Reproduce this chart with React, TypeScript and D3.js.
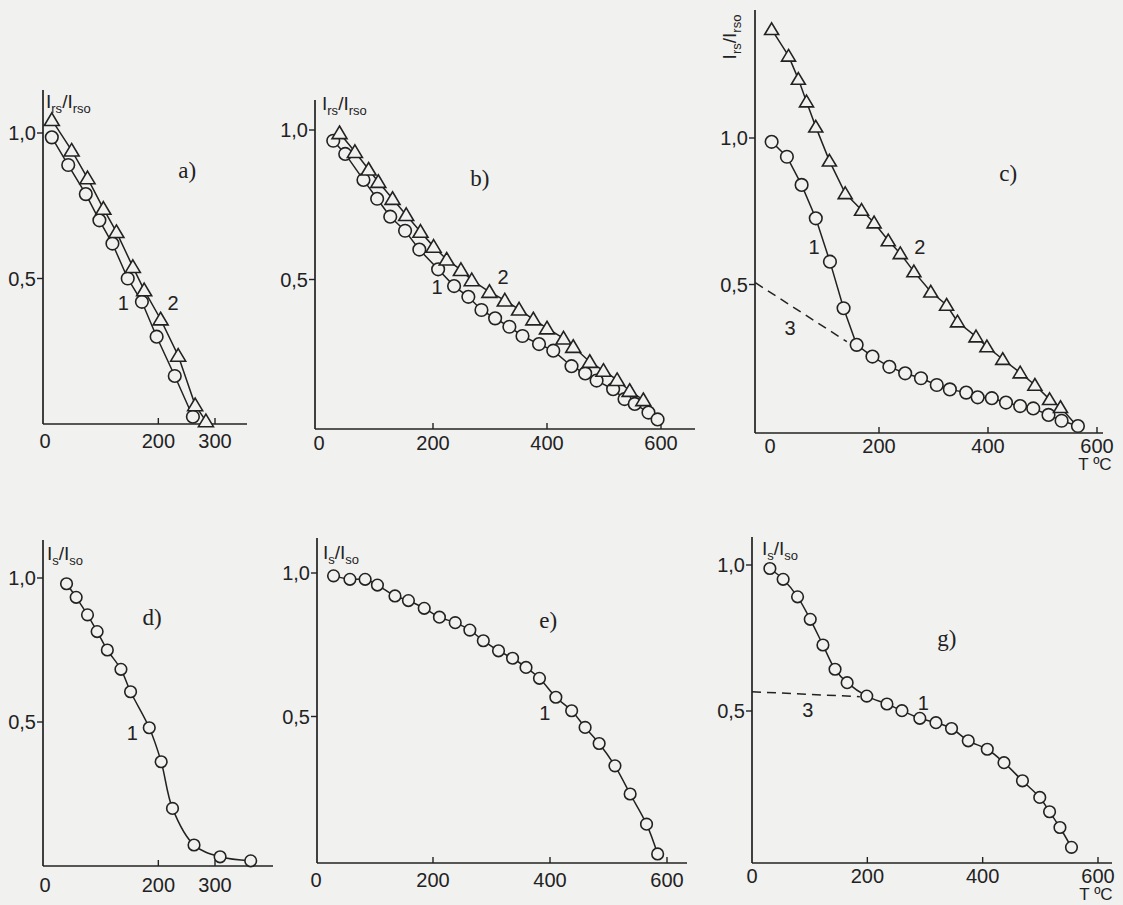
import React from 'react';
import * as d3 from 'd3';

const width = 1123;
const height = 905;
const bg = '#f1f1f0';
const ink = '#222';

// readings, [T °C, I/I0]
const aCircles = [[12, 0.985], [41, 0.89], [72, 0.79], [96, 0.7], [119, 0.62], [146, 0.5], [171, 0.42], [197, 0.3], [229, 0.165], [261, 0.025]];
const aTriangles = [[12, 1.045], [47, 0.94], [75, 0.845], [103, 0.74], [126, 0.66], [155, 0.54], [175, 0.46], [204, 0.36], [235, 0.235], [265, 0.065], [284, 0.01]];

const bCircles = [[25, 0.964], [46, 0.92], [78, 0.833], [102, 0.77], [125, 0.71], [151, 0.663], [176, 0.6], [209, 0.534], [237, 0.478], [262, 0.442], [285, 0.398], [309, 0.37], [334, 0.342], [357, 0.311], [386, 0.284], [411, 0.262], [443, 0.21], [467, 0.186], [487, 0.162], [516, 0.133], [536, 0.1], [554, 0.084], [578, 0.055], [594, 0.032]];
const bTriangles = [[36, 0.99], [63, 0.927], [87, 0.868], [104, 0.827], [129, 0.77], [153, 0.716], [178, 0.66], [201, 0.61], [224, 0.567], [249, 0.532], [268, 0.498], [299, 0.459], [326, 0.43], [351, 0.4], [376, 0.367], [400, 0.337], [429, 0.303], [446, 0.275], [475, 0.225], [499, 0.195], [523, 0.164], [545, 0.128], [569, 0.097]];
const bTriangleTail = [594, 0.035];

const cCircles = [[3, 0.987], [31, 0.936], [58, 0.84], [84, 0.726], [110, 0.578], [135, 0.419], [159, 0.294], [188, 0.254], [219, 0.219], [248, 0.197], [277, 0.18], [306, 0.157], [330, 0.142], [360, 0.131], [381, 0.115], [407, 0.112], [433, 0.097], [459, 0.085], [483, 0.077], [511, 0.055], [535, 0.035], [565, 0.017]];
const cTriangles = [[3, 1.371], [34, 1.28], [52, 1.201], [67, 1.124], [84, 1.038], [109, 0.922], [138, 0.811], [168, 0.754], [191, 0.711], [217, 0.65], [239, 0.606], [264, 0.544], [295, 0.475], [324, 0.43], [344, 0.373], [378, 0.322], [398, 0.288], [427, 0.245], [459, 0.199], [486, 0.157], [513, 0.108], [533, 0.081]];
const cTriangleTail = [562, 0.02];
const cDashed = [[-27, 0.506], [141, 0.305]];

const dCircles = [[38, 0.98], [55, 0.933], [75, 0.872], [92, 0.814], [110, 0.75], [134, 0.683], [151, 0.605], [184, 0.48], [205, 0.362], [225, 0.2], [263, 0.073], [309, 0.032], [363, 0.018]];

const eCircles = [[30, 0.99], [58, 0.978], [84, 0.978], [105, 0.958], [135, 0.92], [158, 0.904], [185, 0.877], [211, 0.846], [238, 0.827], [263, 0.801], [286, 0.764], [312, 0.729], [336, 0.703], [359, 0.671], [382, 0.633], [410, 0.567], [437, 0.52], [460, 0.462], [484, 0.406], [511, 0.328], [537, 0.23], [565, 0.125], [584, 0.021]];

const gCircles = [[31, 0.988], [54, 0.951], [79, 0.891], [101, 0.814], [123, 0.726], [144, 0.643], [165, 0.597], [199, 0.551], [234, 0.524], [260, 0.501], [291, 0.475], [319, 0.46], [346, 0.44], [375, 0.398], [408, 0.369], [437, 0.323], [469, 0.261], [499, 0.204], [516, 0.155], [534, 0.101], [554, 0.033]];
const gDashed = [[0, 0.566], [187, 0.549]];

const xTicks300 = [0, 200, 300];
const xTicks600 = [0, 200, 400, 600];
const yTicks = [0.5, 1.0];

const sans = '"Liberation Sans", Arial, sans-serif';
const serif = '"Liberation Serif", "Times New Roman", serif';

const panels = [
  {
    id: 'a', letter: 'a)', letterAt: [251, 0.873],
    x: [[0, 300], [45, 215]], y: [[0, 1], [424, 133]],
    frame: { left: 43, top: 90, right: 247, bottom: 424 },
    xTicks: xTicks300, labelDy: 24, r: 6.3,
    ylabel: { sub1: 'rs', sub2: 'rso', x: 46, y: 108 },
    series: [
      { pts: aCircles, marker: 'circle' },
      { pts: aTriangles, marker: 'triangle' },
    ],
    notes: [['1', 138, 0.416], ['2', 226, 0.416]],
  },
  {
    id: 'b', letter: 'b)', letterAt: [282, 0.84],
    x: [[0, 600], [319, 661]], y: [[0, 1], [429, 130]],
    frame: { left: 315, top: 100, right: 695, bottom: 429 },
    xTicks: xTicks600, labelDy: 21, r: 6.3,
    ylabel: { sub1: 'rs', sub2: 'rso', x: 322, y: 110 },
    series: [
      { pts: bCircles, marker: 'circle' },
      { pts: bTriangles, marker: 'triangle', tail: bTriangleTail },
    ],
    notes: [['1', 207, 0.475], ['2', 323, 0.508]],
  },
  {
    id: 'c', letter: 'c)', letterAt: [437, 0.88],
    x: [[0, 600], [770, 1097]], y: [[0, 1], [431, 138]],
    frame: { left: 755, top: 10, right: 1103, bottom: 433 },
    xTicks: xTicks600, labelDy: 20, r: 6.3, unit: true,
    ylabel: { sub1: 'rs', sub2: 'rso', x: 736, y: 37, rotate: true },
    series: [
      { pts: cDashed, marker: 'none', dashed: true },
      { pts: cCircles, marker: 'circle' },
      { pts: cTriangles, marker: 'triangle', tail: cTriangleTail, small: true },
    ],
    notes: [['1', 81, 0.628], ['2', 275, 0.628], ['3', 37, 0.352]],
  },
  {
    id: 'd', letter: 'd)', letterAt: [189, 0.865],
    x: [[0, 300], [45, 215]], y: [[0, 1], [866, 578]],
    frame: { left: 43, top: 540, right: 273, bottom: 866 },
    xTicks: xTicks300, labelDy: 26, r: 5.8, smooth: true,
    ylabel: { sub1: 's', sub2: 'so', x: 47, y: 560 },
    series: [{ pts: dCircles, marker: 'circle' }],
    notes: [['1', 154, 0.462]],
  },
  {
    id: 'e', letter: 'e)', letterAt: [397, 0.836],
    x: [[0, 600], [316, 667]], y: [[0, 1], [860, 573]],
    frame: { left: 317, top: 538, right: 687, bottom: 863 },
    xTicks: xTicks600, labelDy: 24, r: 5.8, smooth: true,
    ylabel: { sub1: 's', sub2: 'so', x: 323, y: 559 },
    series: [{ pts: eCircles, marker: 'circle' }],
    notes: [['1', 391, 0.512]],
  },
  {
    id: 'g', letter: 'g)', letterAt: [338, 0.75],
    x: [[0, 600], [752, 1098]], y: [[0, 1], [857, 565]],
    frame: { left: 752, top: 537, right: 1112, bottom: 863 },
    xTicks: xTicks600, labelDy: 20, r: 5.8, smooth: true, unit: true,
    ylabel: { sub1: 's', sub2: 'so', x: 762, y: 555 },
    series: [
      { pts: gDashed, marker: 'none', dashed: true },
      { pts: gCircles, marker: 'circle' },
    ],
    notes: [['1', 297, 0.527], ['3', 97, 0.503]],
  },
];

const fmtY = (v: number) => d3.format('.1f')(v).replace('.', ',');

const YLabel = ({ lab }: any) => (
  <text
    x={lab.x}
    y={lab.y}
    fontFamily={sans}
    fontSize={19}
    fill={ink}
    textAnchor={lab.rotate ? 'middle' : 'start'}
    transform={lab.rotate ? `rotate(-90, ${lab.x}, ${lab.y})` : undefined}
  >
    I<tspan fontSize={13} dy={5}>{lab.sub1}</tspan>
    <tspan fontSize={19} dy={-5}>/I</tspan>
    <tspan fontSize={13} dy={5}>{lab.sub2}</tspan>
  </text>
);

const Panel = ({ p }: any) => {
  const xs = d3.scaleLinear().domain(p.x[0]).range(p.x[1]);
  const ys = d3.scaleLinear().domain(p.y[0]).range(p.y[1]);
  const f = p.frame;
  const curve = p.smooth ? d3.curveCatmullRom.alpha(0.5) : d3.curveLinear;
  const line = d3.line<number[]>().x(d => xs(d[0])).y(d => ys(d[1])).curve(curve);

  return (
    <g>
      {/* axes */}
      <line x1={f.left} x2={f.left} y1={f.top} y2={f.bottom} stroke={ink} strokeWidth={1.7} />
      <line x1={f.left} x2={f.right} y1={f.bottom} y2={f.bottom} stroke={ink} strokeWidth={1.7} />
      {yTicks.map(t => (
        <g key={t}>
          <line x1={f.left - 6} x2={f.left} y1={ys(t)} y2={ys(t)} stroke={ink} strokeWidth={1.4} />
          <text x={f.left - 7} y={ys(t)} dy="0.36em" textAnchor="end" fontFamily={sans} fontSize={20} fill={ink}>
            {fmtY(t)}
          </text>
        </g>
      ))}
      {p.xTicks.map((t: number) => (
        <g key={t}>
          {t > 0 && <line x1={xs(t)} x2={xs(t)} y1={f.bottom - 6} y2={f.bottom} stroke={ink} strokeWidth={1.4} />}
          <text x={xs(t)} y={f.bottom + p.labelDy} textAnchor="middle" fontFamily={sans} fontSize={20} fill={ink}>
            {t}
          </text>
        </g>
      ))}
      {p.unit && (
        <text x={xs(600) - 2} y={f.bottom + p.labelDy + 17} textAnchor="middle" fontFamily={sans} fontSize={17} fill={ink}>
          T ºC
        </text>
      )}
      <YLabel lab={p.ylabel} />

      {/* curves */}
      {p.series.map((s: any, i: number) => {
        const pts = s.tail ? [...s.pts, s.tail] : s.pts;
        return (
          <path
            key={'l' + i}
            d={line(pts) || ''}
            fill="none"
            stroke={ink}
            strokeWidth={1.5}
            strokeDasharray={s.dashed ? '9 6' : undefined}
          />
        );
      })}
      {p.series.map((s: any, i: number) =>
        s.pts.map((d: number[], j: number) => {
          const cx = xs(d[0]);
          const cy = ys(d[1]);
          if (s.marker === 'circle') {
            return <circle key={i + '-' + j} cx={cx} cy={cy} r={p.r} fill={bg} stroke={ink} strokeWidth={1.6} />;
          }
          if (s.marker === 'triangle') {
            const h = s.small ? 6.5 : 7;
            const w = s.small ? 7 : 7.5;
            return (
              <path
                key={i + '-' + j}
                d={`M${cx},${cy - h}L${cx + w},${cy + h * 0.8}L${cx - w},${cy + h * 0.8}Z`}
                fill={bg}
                stroke={ink}
                strokeWidth={1.6}
              />
            );
          }
          return null;
        })
      )}

      {/* annotations */}
      <text x={xs(p.letterAt[0])} y={ys(p.letterAt[1])} dy="0.35em" textAnchor="middle" fontFamily={serif} fontSize={23} fill={ink}>
        {p.letter}
      </text>
      {p.notes.map((n: any) => (
        <text key={n[0]} x={xs(n[1])} y={ys(n[2])} dy="0.35em" textAnchor="middle" fontFamily={sans} fontSize={20} fill={ink}>
          {n[0]}
        </text>
      ))}
    </g>
  );
};

export default function App() {
  return (
    <svg
      width={width}
      height={height}
      style={{ position: 'absolute', left: 0, top: 0, display: 'block' }}
    >
      <rect width={width} height={height} fill={bg} />
      {panels.map(p => (
        <Panel key={p.id} p={p} />
      ))}
    </svg>
  );
}
